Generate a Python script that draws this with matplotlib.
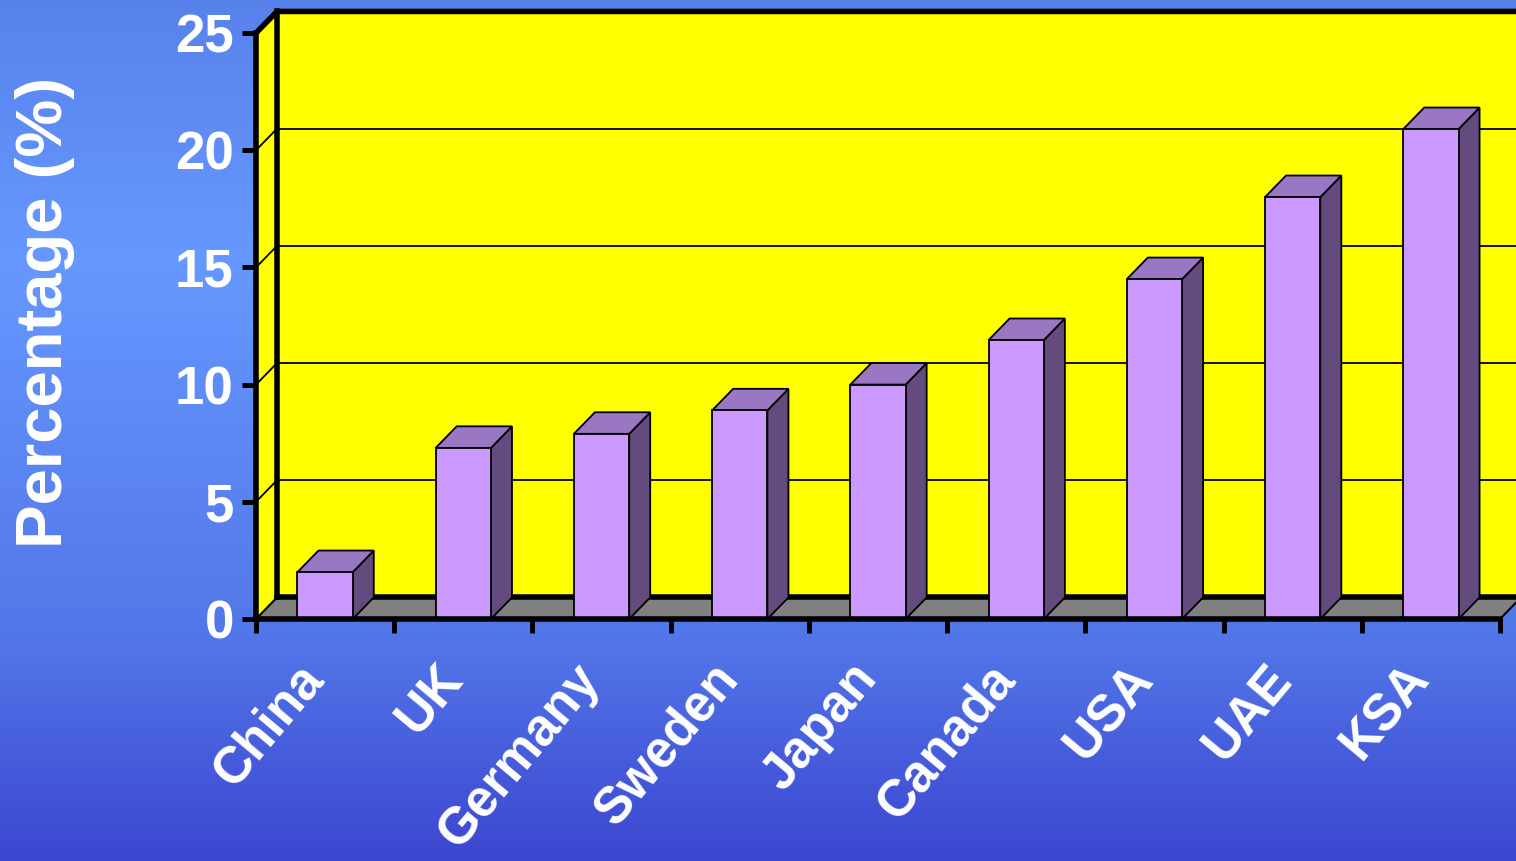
import numpy as np
import matplotlib.pyplot as plt
import matplotlib.transforms as mtransforms
from matplotlib.patches import Polygon

# data
countries = ['China', 'UK', 'Germany', 'Sweden', 'Japan', 'Canada', 'USA', 'UAE', 'KSA']
percent = [2.0, 7.3, 7.9, 8.9, 10.0, 11.9, 14.5, 18.0, 20.9]
yticks = [0, 5, 10, 15, 20, 25]

plt.rcParams['font.family'] = ['Liberation Sans', 'DejaVu Sans']
plt.rcParams['font.weight'] = 'bold'

fig = plt.figure(figsize=(15.16, 8.61), dpi=100)

# blue gradient background
bg = fig.add_axes([0, 0, 1, 1], zorder=-10)
stops_y = [0, 260, 640, 861]
stops_c = np.array([[88, 130, 235], [102, 152, 255], [82, 118, 232], [60, 70, 208]]) / 255.0
rows = np.arange(861)
grad = np.stack([np.interp(rows, stops_y, stops_c[:, k]) for k in range(3)], axis=1)
bg.imshow(grad[:, None, :], aspect='auto', extent=[0, 1, 0, 1])
bg.axis('off')

ax = fig.add_axes([256 / 1516, (861 - 619) / 861, 1244 / 1516, 586 / 861])
ax.set_xlim(0, 9)
ax.set_ylim(0, 25)
ax.patch.set_visible(False)

n = len(countries)
dx, dy = 0.152, 0.92   # depth offset in data units
top = 25

# back wall, floor, side wall
ax.add_patch(Polygon([(dx, dy), (n + dx, dy), (n + dx, top + dy), (dx, top + dy)],
                     closed=True, fc='#ffff00', ec='none', clip_on=False, zorder=1))
ax.add_patch(Polygon([(0, 0), (n, 0), (n + dx, dy), (dx, dy)],
                     closed=True, fc='#808080', ec='none', clip_on=False, zorder=1))
ax.add_patch(Polygon([(0, 0), (dx, dy), (dx, top + dy), (0, top)],
                     closed=True, fc='#ffff00', ec='none', clip_on=False, zorder=1))

for g in yticks[1:-1]:
    ax.plot([dx, n + dx], [g + dy, g + dy], color='black', lw=1.3, clip_on=False, zorder=2)
    ax.plot([0, dx], [g, g + dy], color='black', lw=1.3, clip_on=False, zorder=2)

# thick wall edges
ax.plot([dx, n + dx], [dy, dy], color='black', lw=4, clip_on=False, zorder=2)
ax.plot([dx, dx], [dy, top + dy], color='black', lw=4, clip_on=False, zorder=2)
ax.plot([0, dx, n + dx], [top, top + dy, top + dy], color='black', lw=4,
        clip_on=False, zorder=2, solid_joinstyle='miter')
ax.plot([0, dx], [0, dy], color='black', lw=1.5, clip_on=False, zorder=2)
ax.plot([n, n + dx], [0, dy], color='black', lw=1.5, clip_on=False, zorder=2)

# 3d bars
w = 0.4
for i, v in enumerate(percent):
    x0 = i + 0.5 - w / 2
    x1 = x0 + w
    ax.add_patch(Polygon([(x1, 0), (x1 + dx, dy), (x1 + dx, v + dy), (x1, v)],
                         closed=True, fc='#634b7e', ec='black', lw=1.3, zorder=3))
    ax.add_patch(Polygon([(x0, v), (x1, v), (x1 + dx, v + dy), (x0 + dx, v + dy)],
                         closed=True, fc='#9a77c2', ec='black', lw=1.3, zorder=3))
    ax.add_patch(Polygon([(x0, 0), (x1, 0), (x1, v), (x0, v)],
                         closed=True, fc='#cc99ff', ec='black', lw=1.3, zorder=3))

for s in ['top', 'right']:
    ax.spines[s].set_visible(False)
for s in ['left', 'bottom']:
    ax.spines[s].set_linewidth(4)
    ax.spines[s].set_zorder(5)
    ax.spines[s].set_capstyle('projecting')

ax.set_yticks(yticks)
ax.set_yticklabels([str(t) for t in yticks])
ax.tick_params(axis='y', length=10, width=3.5, pad=6, labelsize=38, labelcolor='white')

ax.set_xticks(np.arange(n) + 0.5)
ax.set_xticklabels(countries, rotation=50, ha='right', va='center', rotation_mode='anchor')
ax.set_xticks(np.arange(n + 1), minor=True)
ax.tick_params(axis='x', which='major', length=0, pad=37, labelsize=37, labelcolor='white')
ax.tick_params(axis='x', which='minor', length=10, width=3.5)
shift = mtransforms.ScaledTranslation(-10 / 100, 0, fig.dpi_scale_trans)
for lab in ax.get_xticklabels():
    lab.set_transform(lab.get_transform() + shift)

fig.text(45 / 1516, 1 - 312 / 861, 'Percentage (%)', rotation=90, ha='center', va='center',
         fontsize=47, color='white', fontweight='bold')

fig.savefig('out.png', dpi=100)
